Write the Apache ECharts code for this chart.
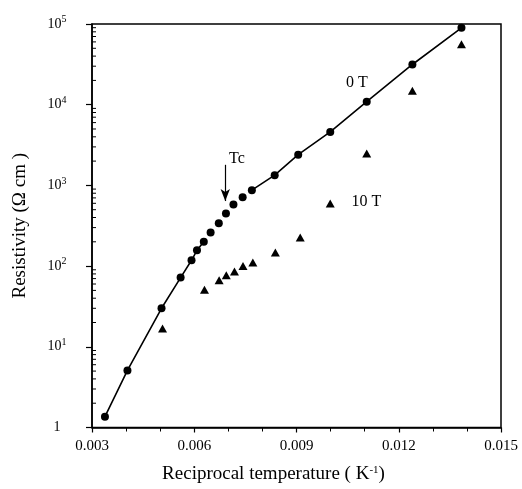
<!DOCTYPE html>
<html><head><meta charset="utf-8">
<script src="https://cdn.jsdelivr.net/npm/echarts@6/dist/echarts.min.js"></script>
<style>html,body{margin:0;padding:0;background:#fff}#c{width:522px;height:489px}</style>
</head><body><div id="c"></div>
<script>
// 0 T (circles)
var circX = [0.00338, 0.00404, 0.00504, 0.0056, 0.00592, 0.00608, 0.00628, 0.00648, 0.00672, 0.00693, 0.00715, 0.00742, 0.00769, 0.00836, 0.00905, 0.00999, 0.01106, 0.0124, 0.01384];
var circY = [1.36, 5.1, 30, 72, 118, 157, 200, 261, 340, 449, 580, 714, 872, 1340, 2400, 4600, 10900, 31500, 89700];
// 10 T (triangles)
var triX = [0.00507, 0.0063, 0.00673, 0.00694, 0.00718, 0.00743, 0.00772, 0.00838, 0.00911, 0.00999, 0.01106, 0.0124, 0.01384];
var triY = [16.9, 51, 67, 77, 86, 100, 111, 147, 226, 597, 2480, 14900, 56000];
// fitted line drawn through circles, interrupted near Tc (indices 7..11 not joined)
var lineGapFrom = 7, lineGapTo = 11;
var xTicks = [0.003, 0.006, 0.009, 0.012, 0.015];
var yTickLabels = {1: '1', 10: '10{s|1}', 100: '10{s|2}', 1000: '10{s|3}', 10000: '10{s|4}', 100000: '10{s|5}'};

var circData = circX.map(function (x, i) { return [x, circY[i]]; });
var triData = triX.map(function (x, i) { return [x, triY[i]]; });
var lineData = circX.map(function (x, i) { return (i >= lineGapFrom && i <= lineGapTo) ? [x, '-'] : [x, circY[i]]; });
var minorVals = [];
for (var k = 0; k < 5; k++) for (var m = 2; m <= 9; m++) minorVals.push([0.003, m * Math.pow(10, k)]);

var serif = '"Liberation Serif", "DejaVu Serif", serif';
var chart = echarts.init(document.getElementById('c'));
chart.setOption({
  animation: false,
  backgroundColor: '#fff',
  grid: {left: 92, right: 21, top: 24, bottom: 60, show: true, borderColor: '#000', borderWidth: 1.5},
  xAxis: {
    type: 'value', min: 0.003, max: 0.015, interval: 0.003,
    name: 'Reciprocal temperature ( K{s|-1})', nameLocation: 'middle', nameGap: 37,
    nameTextStyle: {fontFamily: serif, fontSize: 19, color: '#000', padding: [0, 46, 0, 0],
      rich: {s: {fontSize: 11, verticalAlign: 'top', padding: [0, 0, 9, 0], fontFamily: serif}}},
    axisLine: {lineStyle: {color: '#000', width: 1.5}},
    axisTick: {show: true, length: 5, lineStyle: {color: '#000', width: 1.2}},
    minorTick: {show: true, splitNumber: 3, length: 4, lineStyle: {color: '#000'}},
    splitLine: {show: false},
    axisLabel: {fontFamily: serif, fontSize: 15, color: '#000', margin: 11,
      formatter: function (v) { return xTicks.indexOf(Math.round(v * 1000) / 1000) >= 0 ? v.toFixed(3) : ''; }}
  },
  yAxis: {
    type: 'log', logBase: 10, min: 1, max: 100000,
    name: 'Resistivity (Ω cm )', nameLocation: 'middle', nameGap: 62,
    nameTextStyle: {fontFamily: serif, fontSize: 19, color: '#000'},
    axisLine: {lineStyle: {color: '#000', width: 1.5}},
    axisTick: {show: true, length: 6, lineStyle: {color: '#000', width: 1.2}},
    splitLine: {show: false},
    axisLabel: {fontFamily: serif, fontSize: 14, color: '#000', margin: 35, align: 'center',
      formatter: function (v) { var key = Math.round(v); return yTickLabels[key] || ''; },
      rich: {s: {fontSize: 10, verticalAlign: 'top', padding: [0, 0, 9, 0], fontFamily: serif}}}
  },
  series: [
    {type: 'custom', data: minorVals, silent: true, z: 1,
      renderItem: function (params, api) {
        var p = api.coord([0.003, api.value(1)]);
        return {type: 'line', shape: {x1: p[0], y1: p[1], x2: p[0] + 4, y2: p[1]}, style: {stroke: '#000', lineWidth: 1}};
      }},
    {type: 'line', data: lineData, showSymbol: false, symbol: 'none', connectNulls: false,
      lineStyle: {color: '#000', width: 1.6}, z: 2,
      markLine: {silent: true, symbol: ['none', 'arrow'], symbolSize: [7, 12],
        lineStyle: {color: '#000', width: 1.2, type: 'solid'}, label: {show: false},
        data: [[{coord: [0.00691, 1800]}, {coord: [0.00691, 640]}]]}},
    {type: 'scatter', data: circData, symbol: 'circle', symbolSize: 8, itemStyle: {color: '#000', opacity: 1}, z: 3},
    {type: 'scatter', data: triData, symbol: 'triangle', symbolSize: [9, 8], itemStyle: {color: '#000', opacity: 1}, z: 3},
    {type: 'scatter', symbol: 'circle', symbolSize: 1, silent: true, z: 4,
      itemStyle: {color: '#fff', opacity: 1},
      data: [
        {value: [0.01077, 18500], label: {formatter: '0 T'}},
        {value: [0.01105, 630], label: {formatter: '10 T'}},
        {value: [0.00725, 2150], label: {formatter: 'Tc'}}
      ],
      label: {show: true, position: 'inside', fontFamily: serif, fontSize: 16, color: '#000', opacity: 1, textBorderWidth: 0}}
  ]
});
</script></body></html>
